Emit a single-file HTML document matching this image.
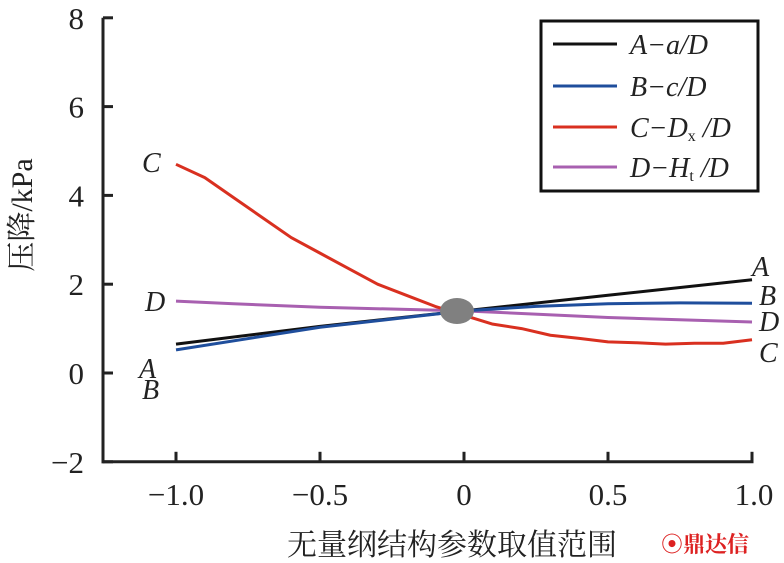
<!DOCTYPE html>
<html><head><meta charset="utf-8"><style>
body{margin:0;background:#fff}
svg{display:block}
text{font-family:"Liberation Serif","Noto Serif CJK SC",serif;fill:#222}
</style></head><body>
<svg width="784" height="563" viewBox="0 0 784 563">
<g id="axes"></g>
<g id="series"></g>
<ellipse cx="457" cy="311" rx="17" ry="13" fill="#808080"/>
<text x="32" y="215" font-size="30" transform="rotate(-90 32 215)" text-anchor="middle">压降/kPa</text>
<text x="452" y="555" font-size="30" text-anchor="middle">无量纲结构参数取值范围</text>
<text x="705" y="552" font-size="22" font-weight="bold" style="fill:#d22" text-anchor="middle" font-family="Noto Sans CJK SC">⦿鼎达信</text>
<g font-style="italic" font-size="28">
<text x="142" y="172">C</text>
<text x="145" y="311">D</text>
<text x="139" y="378">A</text>
<text x="142" y="399">B</text>
<text x="752" y="276">A</text>
<text x="759" y="305">B</text>
<text x="759" y="331">D</text>
<text x="759" y="362">C</text>
</g>
<g>
<rect x="541" y="21" width="217" height="170" fill="#fff" stroke="#111" stroke-width="3"/>
<g font-style="italic" font-size="28">
<line x1="553" y1="44" x2="617" y2="44" stroke="#111" stroke-width="3"/>
<text x="630" y="54">A−a/D</text>
<line x1="553" y1="86" x2="617" y2="86" stroke="#1f4e9c" stroke-width="3"/>
<text x="630" y="96">B−c/D</text>
<line x1="553" y1="127" x2="617" y2="127" stroke="#d93020" stroke-width="3"/>
<text x="630" y="137">C−D<tspan font-size="16" dy="4" font-style="normal">x</tspan><tspan dy="-4"> /D</tspan></text>
<line x1="553" y1="167" x2="617" y2="167" stroke="#a860b0" stroke-width="3"/>
<text x="630" y="177">D−H<tspan font-size="16" dy="4" font-style="normal">t</tspan><tspan dy="-4"> /D</tspan></text>
</g></g>
</svg>
<script>
const xTicks=[-1.0,-0.5,0,0.5,1.0];
const xTickLabels=["−1.0","−0.5","0","0.5","1.0"];
const yTicks=[-2,0,2,4,6,8];
const yTickLabels=["−2","0","2","4","6","8"];
const xA=[-1,-0.5,0,0.5,1];
const valA=[0.65,1.05,1.4,1.75,2.1];
const xB=[-1,-0.5,0,0.25,0.5,0.75,1];
const valB=[0.52,1.03,1.4,1.5,1.56,1.58,1.57];
const xC=[-1,-0.9,-0.8,-0.7,-0.6,-0.5,-0.4,-0.3,-0.2,-0.1,0,0.1,0.2,0.3,0.4,0.5,0.6,0.7,0.8,0.9,1];
const valC=[4.7,4.4,3.95,3.5,3.05,2.7,2.35,2.0,1.75,1.5,1.3,1.1,1.0,0.85,0.78,0.7,0.68,0.65,0.67,0.67,0.75];
const xD=[-1,-0.8,-0.5,0,0.5,1];
const valD=[1.62,1.56,1.48,1.4,1.25,1.15];
const sx=v=>464+v*288;
const sy=v=>373-v*44.4;
const NS="http://www.w3.org/2000/svg";
const axes=document.getElementById('axes');
function mk(tag,attrs,parent){const e=document.createElementNS(NS,tag);for(const k in attrs)e.setAttribute(k,attrs[k]);parent.appendChild(e);return e;}
const yl=mk('line',{x1:103,y1:sy(8),x2:103,y2:sy(-2)+1.5,stroke:'#222','stroke-width':3},axes);


const xl=mk('line',{x1:101.5,y1:sy(-2),x2:sx(1)+1.5,y2:sy(-2),stroke:'#222','stroke-width':3},axes);


yTicks.forEach((t,i)=>{
 const l=mk('line',{x1:103,y1:sy(t),x2:113,y2:sy(t),stroke:'#222','stroke-width':3},axes);
 
 
 const tx=mk('text',{x:84,y:sy(t)+11,'font-size':31,'text-anchor':'end'},axes);
 tx.textContent=yTickLabels[i];
 
 
});
xTicks.forEach((t,i)=>{
 const l=mk('line',{x1:sx(t),y1:sy(-2),x2:sx(t),y2:sy(-2)-10,stroke:'#222','stroke-width':3},axes);
 
 
 const tx=mk('text',{x:sx(t)+(t===1?2:0),y:505,'font-size':31,'text-anchor':'middle'},axes);
 tx.textContent=xTickLabels[i];
 
 
});
const ser=document.getElementById('series');
[[xD,valD,'#a860b0','series-d'],[xC,valC,'#d93020','series-c'],[xA,valA,'#111','series-a'],[xB,valB,'#1f4e9c','series-b']].forEach(s=>{
 const pts=s[0].map((x,i)=>sx(x)+','+sy(s[1][i])).join(' ');
 const p=mk('polyline',{points:pts,fill:'none',stroke:s[2],'stroke-width':3,'stroke-linejoin':'round'},ser);
 
 
});
</script>
</body></html>
